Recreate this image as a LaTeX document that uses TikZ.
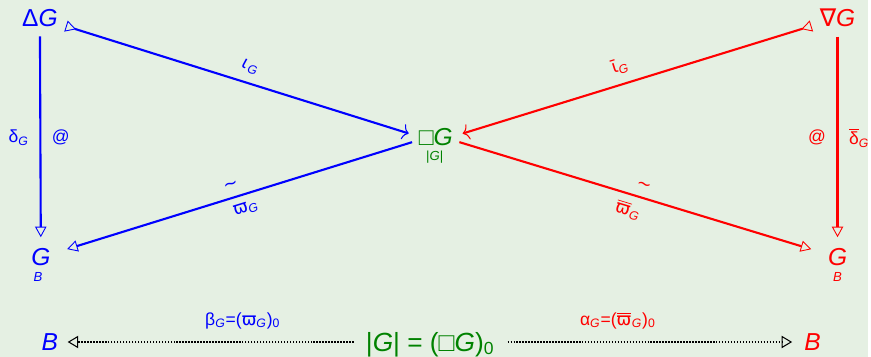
\documentclass[tikz,border=0pt]{standalone}
\usepackage{fontspec}
\setmainfont{Liberation Sans}
\newfontfamily\gkfont{DejaVu Sans}
\usetikzlibrary{arrows.meta}
\definecolor{bgpale}{HTML}{E5F0E3}
\definecolor{dkgreen}{RGB}{0,130,0}
\newcommand\gG{\textit{G}}
\newcommand\lo[1]{\textsubscript{#1}}
\newcommand\vpi{{\gkfont ϖ}}
\newcommand\barvpi{$\overline{\hbox{\gkfont ϖ}}$\kern0.3pt}

\begin{document}
\begin{tikzpicture}[x=0.02cm, y=-0.02cm,
  big/.style={font=\fontsize{14}{14}\selectfont, inner sep=0pt, outer sep=0pt},
  lbl/.style={font=\fontsize{10}{10}\selectfont, inner sep=1pt},
  tiny/.style={font=\fontsize{7.5}{7.5}\selectfont, inner sep=0pt},
  arr/.style={line width=1.2pt, -{Triangle[open,line width=0.5pt,length=6pt,width=6.5pt]}},
  inc/.style={line width=1.2pt,
    {Triangle[open,reversed,line width=0.5pt,length=6pt,width=6.5pt]}-{Computer Modern Rightarrow[line width=0.6pt,length=3.5pt,width=9pt]}},
  dots/.style={black, line width=0.85pt, dash pattern=on 0.85pt off 0.85pt,
    -{Triangle[open,line width=0.6pt,length=6pt,width=7pt]}}]
  %% Background
  \fill[bgpale] (0,0) rectangle (871,358);

  %% Objects
  \node[big, blue] (dG) at (40,18) {Δ\gG};
  \node[big, red] (nG) at (840,18) {{\gkfont ∇}\gG};
  \node[big, dkgreen] (sqG) at (437,137) {□\gG};
  \node[tiny, dkgreen] (absG) at (436,158) {|\gG|};
  \node[big, blue] (Gl) at (41,258) {\gG};
  \node[tiny, blue] (Bsl) at (38,278) {\textit{B}};
  \node[big, red] (Gr) at (840,258) {\gG};
  \node[tiny, red] (Bsr) at (840,278) {\textit{B}};

  %% Bottom row
  \node[big, blue, text height=10pt, text depth=0pt] (Bl) at (50,343) {\textit{B}};
  \node[big, dkgreen, font=\fontsize{15}{15}\selectfont, text height=10.5pt, text depth=0pt]
    (mid) at (431,343)
    {|\gG|\;=\;(□\gG)\raisebox{-2pt}{\fontsize{10}{10}\selectfont 0}};
  \node[big, red, text height=10pt, text depth=0pt] (Br) at (815,343) {\textit{B}};

  %% Left side (blue)
  \draw[blue, arr, shorten <=5.5pt, shorten >=6.5pt] (dG) -- (Gl)
    node[lbl, pos=0.5, left=5pt] {δ\lo{\gG}}
    node[lbl, pos=0.5, right=5pt] {@};
  \draw[blue, inc, shorten <=5pt, shorten >=6pt] (dG) -- (sqG.west)
    node[lbl, pos=0.52, above=4pt, sloped] {{\gkfont\itshape ι}\kern0.5pt\lo{\gG}};
  \draw[blue, arr, shorten <=4pt, shorten >=10pt] ([yshift=-2pt]sqG.west) -- (Gl)
    node[lbl, pos=0.5, above=3pt, sloped] {{\gkfont ∼}}
    node[lbl, pos=0.48, below=3pt, sloped] {\vpi\lo{\gG}};

  %% Right side (red)
  \draw[red, arr, shorten <=5.5pt, shorten >=6.5pt] (nG) -- (Gr)
    node[lbl, pos=0.5, left=5pt] {@}
    node[lbl, pos=0.5, right=5pt] {$\overline{\hbox{δ}}$\lo{\gG}};
  \draw[red, inc, shorten <=5pt, shorten >=6pt] (nG) -- (sqG.east)
    node[lbl, pos=0.53, above=4pt, sloped] {{\gkfont ῑ}\lo{\gG}};
  \draw[red, arr, shorten <=4pt, shorten >=10pt] ([yshift=-2pt]sqG.east) -- (Gr)
    node[lbl, pos=0.5, above=3pt, sloped] {{\gkfont ∼}}
    node[lbl, pos=0.48, below=3pt, sloped] {\barvpi\lo{\gG}};

  %% Dotted arrows to B
  \draw[dots, shorten <=7pt, shorten >=5.5pt] (mid) -- (Bl)
    node[lbl, blue, pos=0.4, above=6pt] {β\lo{\gG}=(\vpi\lo{\gG})\lo{0}};
  \draw[dots, shorten <=8pt, shorten >=7pt] (mid) -- (Br)
    node[lbl, red, pos=0.4, above=6pt] {α\lo{\gG}=(\barvpi\lo{\gG})\lo{0}};
\end{tikzpicture}
\end{document}
